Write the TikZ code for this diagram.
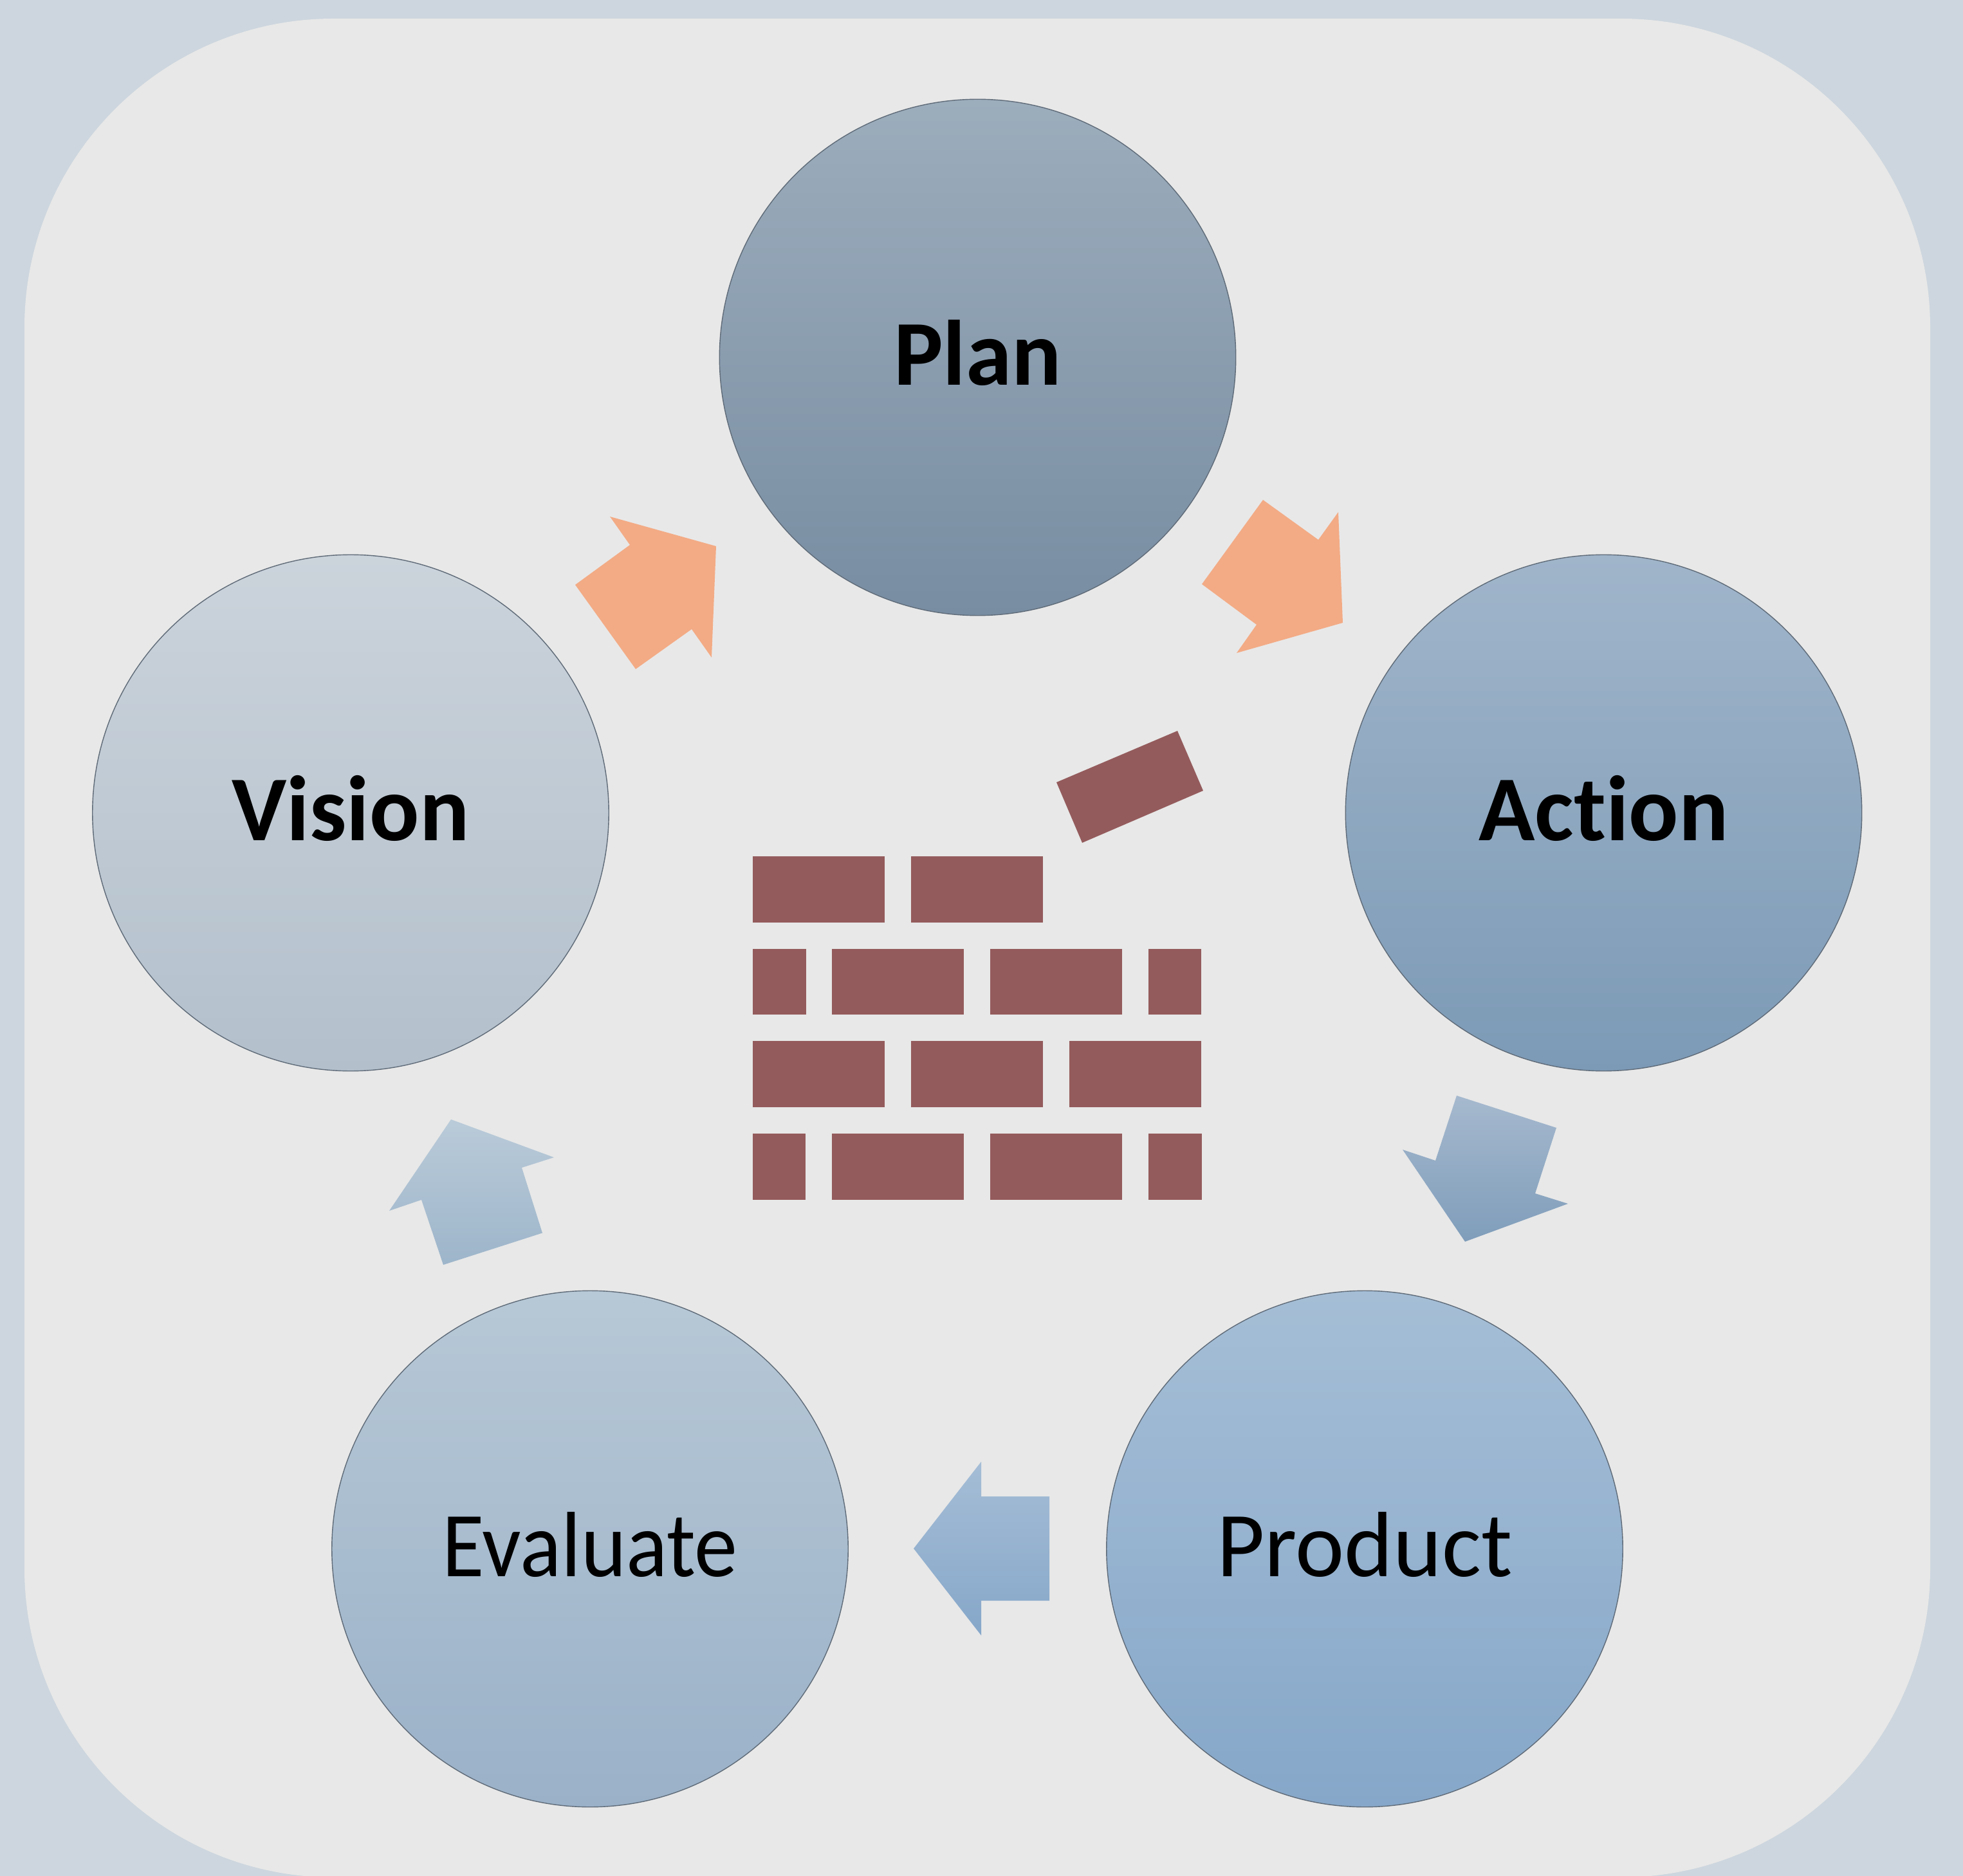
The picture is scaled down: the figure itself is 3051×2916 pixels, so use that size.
\documentclass[tikz,border=0pt]{standalone}
\usepackage{fontspec}
\setmainfont[Ligatures=NoCommon]{Carlito}
\definecolor{bgcol}{HTML}{CDD6DE}
\definecolor{panelcol}{HTML}{E8E8E8}
\definecolor{orangecol}{HTML}{F3AB85}
\definecolor{brickcol}{HTML}{945B5C}
\definecolor{rimcol}{HTML}{5F6B78}
\definecolor{CPlanT}{HTML}{9CADBC}\definecolor{CPlanB}{HTML}{788DA2}
\definecolor{CActT}{HTML}{A0B5CA}\definecolor{CActB}{HTML}{7C9AB6}
\definecolor{CVisT}{HTML}{CBD3DB}\definecolor{CVisB}{HTML}{B3C0CC}
\definecolor{CProT}{HTML}{A5BED6}\definecolor{CProB}{HTML}{86A7C9}
\definecolor{CEvaT}{HTML}{B7C8D6}\definecolor{CEvaB}{HTML}{9AB1C8}
\definecolor{CDownT}{HTML}{A6B9CE}\definecolor{CDownB}{HTML}{7F9DBA}
\definecolor{CLeftT}{HTML}{A5BDD6}\definecolor{CLeftB}{HTML}{86A7C9}
\definecolor{CUpT}{HTML}{BACBD9}\definecolor{CUpB}{HTML}{9DB5CA}
\tikzset{
  px/.style={x=0.01cm,y=-0.01cm},
  stage/.style={circle,draw=rimcol,line width=0.4pt,inner sep=0pt,minimum size=8.02cm,text=black,text height=1.5cm,text depth=0.64cm,font=\fontsize{41}{49}\selectfont},
  boldstage/.style={stage,font=\fontsize{41}{49}\selectfont\bfseries},
  brick/.style={fill=brickcol,draw=none},
  orangearrow/.style={fill=orangecol,draw=none},
}
\begin{document}
\begin{tikzpicture}[px]
\useasboundingbox (0,0) rectangle (3051,2916);
\fill[bgcol] (0,0) rectangle (3051,2916);
\begin{scope}
\clip (0,0) rectangle (3051,2916);
\fill[panelcol,rounded corners=4.8cm] (38,29) rectangle (3000,2918);
\end{scope}
% stages
\node[boldstage,top color=CPlanT,bottom color=CPlanB] (plan) at (1519.5,555.5) {Plan};
\node[boldstage,top color=CActT,bottom color=CActB] (action) at (2492.5,1263.5) {Action};
\node[boldstage,top color=CVisT,bottom color=CVisB] (vision) at (545,1263.5) {Vision};
\node[stage,top color=CProT,bottom color=CProB] (product) at (2121,2407.5) {Product};
\node[stage,top color=CEvaT,bottom color=CEvaB] (evaluate) at (917,2407.5) {\scalebox{0.93}[1]{Evaluate}};
% block arrows
\fill[orangearrow] (1963,777)--(2049,839)--(2080,796)--(2087,968)--(1922,1015)--(1953,971)--(1868,908)--cycle;
\fill[orangearrow] (948,803)--(1113,849)--(1106,1022)--(1075,978)--(988,1040)--(894,909)--(979,847)--cycle;
\path[top color=CDownT,bottom color=CDownB] (2264,1703)--(2419,1753)--(2386,1855)--(2437,1871)--(2277,1930)--(2180,1787)--(2231,1804)--cycle;
\path[top color=CLeftT,bottom color=CLeftB] (1420,2407)--(1525,2272)--(1525,2326)--(1631,2326)--(1631,2488)--(1525,2488)--(1525,2542)--cycle;
\path[top color=CUpT,bottom color=CUpB] (701,1740)--(861,1799)--(811,1815)--(843,1916.5)--(689,1966)--(655,1865)--(605,1882)--cycle;
% wall
\foreach \a/\b in {1170/1375,1416/1621} \fill[brick] (\a,1331) rectangle (\b,1433.5);
\foreach \a/\b in {1170/1253,1293/1498,1539/1744,1785/1867} \fill[brick] (\a,1474.5) rectangle (\b,1577);
\foreach \a/\b in {1170/1375,1416/1621,1662/1867} \fill[brick] (\a,1618) rectangle (\b,1720.5);
\foreach \a/\b in {1170/1252,1293/1498,1539/1744,1785/1868} \fill[brick] (\a,1761.5) rectangle (\b,1864.5);
\fill[brick] (1830,1136)--(1870,1229)--(1682,1310)--(1642,1216)--cycle;
\end{tikzpicture}
\end{document}
